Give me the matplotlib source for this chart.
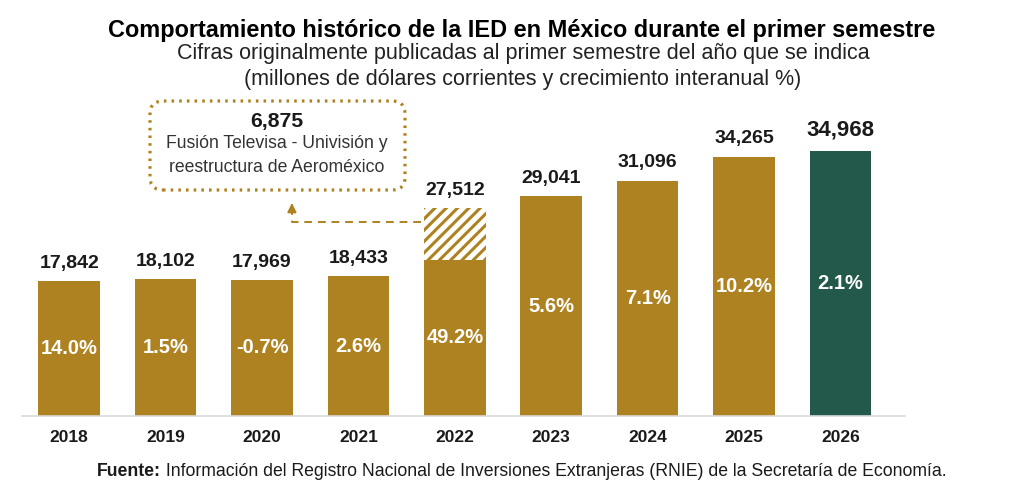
import matplotlib
matplotlib.use('Agg')
import matplotlib.pyplot as plt
from matplotlib.patches import FancyBboxPatch
from matplotlib.lines import Line2D
from matplotlib.transforms import IdentityTransform

# data
years = ['2018', '2019', '2020', '2021', '2022', '2023', '2024', '2025', '2026']
values = [17842, 18102, 17969, 18433, 27512, 29041, 31096, 34265, 34968]
growth = ['14.0%', '1.5%', '-0.7%', '2.6%', '49.2%', '5.6%', '7.1%', '10.2%', '2.1%']
one_off = 6875          # extraordinary amount inside 2022
one_off_year = '2022'
note_lines = ['Fusión Televisa - Univisión y', 'reestructura de Aeroméxico']

title = 'Comportamiento histórico de la IED en México durante el primer semestre'
subtitle_1 = 'Cifras originalmente publicadas al primer semestre del año que se indica'
subtitle_2 = '(millones de dólares corrientes y crecimiento interanual %)'
source_bold = 'Fuente:'
source_rest = ' Información del Registro Nacional de Inversiones Extranjeras (RNIE) de la Secretaría de Economía.'

gold = '#AE8220'
green = '#22594B'
dark = '#1A1A1A'

plt.rcParams['font.family'] = ['Liberation Sans', 'DejaVu Sans']

W, H = 1024, 503
fig = plt.figure(figsize=(W / 100, H / 100), dpi=100)
ax = fig.add_axes([22 / W, 87 / H, 883 / W, 321 / H])

x = list(range(len(years)))
bw = 0.64
k = years.index(one_off_year)
hatch_rect = None

for i, v in enumerate(values):
    col = green if i == len(values) - 1 else gold
    if i == k:
        base = v - one_off
        ax.bar(i, base, width=bw, color=col, linewidth=0)
        hatch_rect = ax.bar(i, one_off, bottom=base, width=bw, facecolor='white',
                            linewidth=0)[0]
        mid = base / 2
    else:
        ax.bar(i, v, width=bw, color=col, linewidth=0)
        mid = v / 2
    big = i == len(values) - 1
    ax.annotate(f'{v:,}', (i, v), xytext=(0, 11 if big else 9.5), textcoords='offset points',
                ha='center', va='baseline', fontsize=16 if big else 14,
                fontweight='bold', color=dark)
    ax.text(i, mid, growth[i], ha='center', va='center', fontsize=14.5,
            fontweight='bold', color='white')

ax.set_xlim(-0.49, 8.67)
ax.set_ylim(0, 42400)
ax.set_xticks(x)
ax.set_xticklabels(years, fontsize=12.5, fontweight='bold', color=dark)
ax.tick_params(axis='x', length=0, pad=10)
ax.set_yticks([])
for s in ['top', 'right', 'left']:
    ax.spines[s].set_visible(False)
ax.spines['bottom'].set_color('#D9D9D9')
ax.spines['bottom'].set_linewidth(1.2)

# diagonal stripes on the one-off part (drawn in pixels, clipped to the bar)
fig.canvas.draw()
ext = hatch_rect.get_window_extent()
h = ext.height
step = 11.3
c = ext.x0 - h
while c < ext.x1:
    ln = Line2D([c, c + h], [ext.y0, ext.y0 + h], transform=IdentityTransform(),
                color=gold, lw=2.2)
    ln.set_clip_path(hatch_rect)
    fig.add_artist(ln)
    c += step

# dashed connector from hatched part to the note box
y_arrow = (values[k] - one_off) + 0.72 * one_off
x_turn = 2.31
ax.plot([k - bw / 2 - 0.03, x_turn, x_turn], [y_arrow, y_arrow, 27300],
        color=gold, lw=1.4, ls=(0, (4, 3)), clip_on=False)
ax.annotate('', xy=(x_turn, 28500), xytext=(x_turn, 27200),
            arrowprops=dict(arrowstyle='-|>', color=gold, lw=1.4, mutation_scale=13),
            annotation_clip=False)

# note box (pixel positions -> inches)
box = FancyBboxPatch((150 / 100, (H - 190) / 100), 255 / 100, 89 / 100,
                     boxstyle='round,pad=0,rounding_size=0.13',
                     transform=fig.dpi_scale_trans, facecolor='white',
                     edgecolor=gold, linewidth=2.3, linestyle=(0, (0.8, 1.6)))
fig.patches.append(box)
fig.text(277 / W, 1 - 122 / H, f'{one_off:,}', ha='center', va='center',
         fontsize=15.3, fontweight='bold', color=dark)
fig.text(277 / W, 1 - 144 / H, note_lines[0], ha='center', va='center',
         fontsize=12.7, color='#333333')
fig.text(277 / W, 1 - 167 / H, note_lines[1], ha='center', va='center',
         fontsize=12.7, color='#333333')

# titles
fig.text(522 / W, 1 - 30 / H, title, ha='center', va='center', fontsize=16.9,
         fontweight='bold', color='black')
fig.text(523 / W, 1 - 54 / H, subtitle_1, ha='center', va='center', fontsize=15.5,
         color='#222222')
fig.text(523 / W, 1 - 79 / H, subtitle_2, ha='center', va='center', fontsize=15.5,
         color='#222222')

# source line, bold part then regular part
t1 = fig.text(97 / W, 1 - 472 / H, source_bold, ha='left', va='center', fontsize=12.7,
              fontweight='bold', color=dark)
fig.canvas.draw()
bb = t1.get_window_extent()
fig.text(bb.x1 / W, 1 - 472 / H, source_rest, ha='left', va='center', fontsize=12.7,
         color=dark)

fig.savefig('out.png', dpi=100)
